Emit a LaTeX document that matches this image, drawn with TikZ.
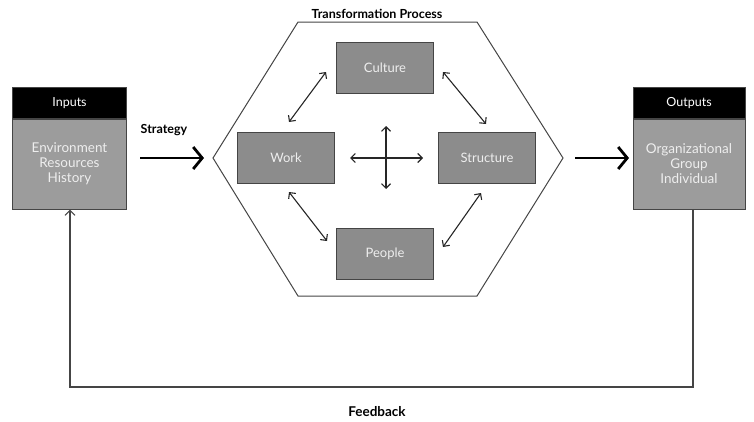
\documentclass[tikz,border=0pt]{standalone}
\usepackage{fontspec}
\setmainfont{Lato}
\usetikzlibrary{shapes.geometric, arrows.meta}
\definecolor{boxgray}{HTML}{8C8C8C}
\definecolor{sidegray}{HTML}{9C9C9C}
\definecolor{edgegray}{HTML}{454545}
\definecolor{lighttext}{HTML}{EEEEEE}
\tikzstyle{head} = [rectangle, fill=black, draw=edgegray, line width=1pt, text=white, minimum width=114pt, minimum height=31pt, font=\fontsize{12.5}{14}\selectfont]
\tikzstyle{side} = [rectangle, fill=sidegray, draw=edgegray, line width=1pt, text=lighttext, minimum width=114pt, minimum height=90pt, align=center, font=\fontsize{13.5}{15}\selectfont]
\tikzstyle{part} = [rectangle, fill=boxgray, draw=edgegray, line width=1pt, text=lighttext, minimum width=97pt, minimum height=51pt, font=\fontsize{13}{15}\selectfont]
\tikzstyle{title} = [font=\bfseries\fontsize{12.5}{14}\selectfont]
\tikzstyle{bigarrow} = [line width=2.8pt, -{Straight Barb[length=9pt,width=22pt]}]
\tikzstyle{link} = [line width=1.1pt, black!85, {Straight Barb[length=4.5pt,width=9pt]}-{Straight Barb[length=4.5pt,width=9pt]}]
\tikzstyle{loop} = [line width=1.1pt, edgegray, -{Straight Barb[length=5pt,width=10pt]}]

\begin{document}
\begin{tikzpicture}[x=1pt, y=-1pt]
  \useasboundingbox (0,0) rectangle (754,421);

  % inputs and outputs
  \node (inhead) [head] at (69.5,103) {Inputs};
  \node (inbody) [side] at (69.5,164) {Environment\\Resources\\History};
  \node (outhead) [head, minimum width=112pt] at (689,103) {Outputs};
  \node (outbody) [side, minimum width=112pt] at (689,164) {Organizational\\Group\\Individual};

  % transformation hexagon
  \draw [line width=1pt, edgegray] (213,158) -- (298,22) -- (477,22) -- (563,158)
    -- (477,296) -- (298,296) -- cycle;
  \node (trans) [title] at (377,14) {Transformation Process};

  \node (culture) [part] at (385,68) {Culture};
  \node (work) [part] at (286,158) {Work};
  \node (struct) [part] at (487,158) {Structure};
  \node (people) [part] at (385,254) {People};

  \coordinate (hexin) at (204,158);
  \coordinate (hexout) at (575,158);
  \coordinate (outin) at (629,158);
  \coordinate (mid) at (386,158);

  \draw [link] (289,122) -- (326,72);
  \draw [link] (443,72) -- (486,124);
  \draw [link] (289,192) -- (327,241);
  \draw [link] (481,193) -- (443,247);
  \draw [link] ([xshift=-36pt]mid) -- ([xshift=37pt]mid);
  \draw [link] ([yshift=-31pt]mid) -- ([yshift=32pt]mid);

  % strategy in, results out
  \node (strat) [title] at (164,130) {Strategy};
  \draw [bigarrow] (140,158) -- (hexin);
  \draw [bigarrow] (hexout) -- (outin);

  % feedback loop
  \coordinate (fbright) at (693,387);
  \coordinate (fbleft) at (70,387);
  \draw [loop] (693,209) -- (fbright) -- (fbleft) -- (inbody.south -| fbleft);
  \node (feed) [title, font=\bfseries\fontsize{13.5}{15}\selectfont] at (377,412) {Feedback};
\end{tikzpicture}
\end{document}
